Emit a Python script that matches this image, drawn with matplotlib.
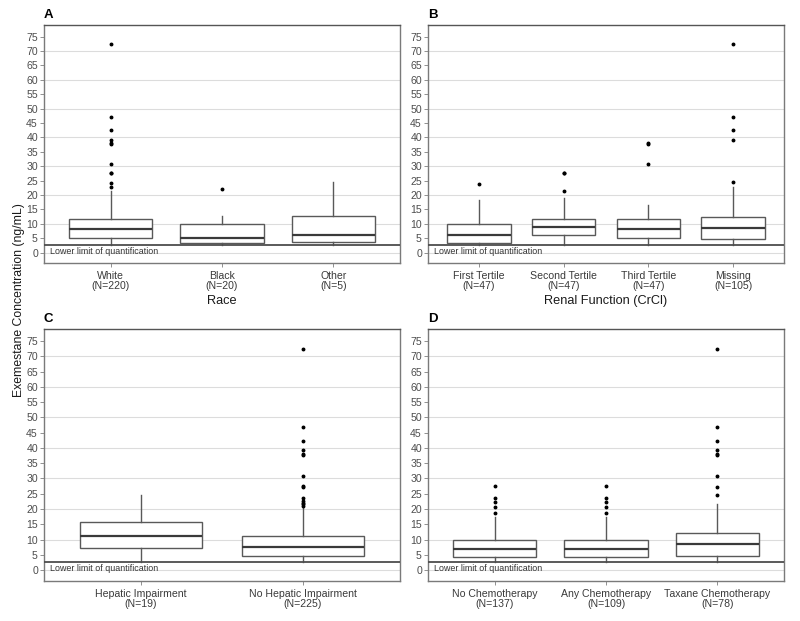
import matplotlib
matplotlib.use("Agg")
import matplotlib.pyplot as plt
from matplotlib.transforms import blended_transform_factory

plt.rcParams['font.family'] = ['Liberation Sans', 'DejaVu Sans']

LLOQ = 2.5

# Panel A: Race
a_cats = ["White\n(N=220)", "Black\n(N=20)", "Other\n(N=5)"]
a_q1 = [5.0, 3.5, 3.8]
a_med = [8.2, 5.2, 6.2]
a_q3 = [11.8, 9.9, 12.6]
a_lo = [2.5, 2.5, 2.5]
a_hi = [21.3, 12.7, 24.6]
a_fliers = [[72.5, 47.0, 42.6, 39.2, 38.2, 37.8, 30.9, 27.8, 27.5, 24.0, 22.7],
            [22.0],
            []]

# Panel B: Renal function
b_cats = ["First Tertile\n(N=47)", "Second Tertile\n(N=47)", "Third Tertile\n(N=47)", "Missing\n(N=105)"]
b_q1 = [3.3, 6.2, 5.0, 4.6]
b_med = [6.2, 9.0, 8.3, 8.5]
b_q3 = [10.0, 11.5, 11.5, 12.5]
b_lo = [2.5, 2.5, 2.5, 2.5]
b_hi = [18.1, 19.0, 16.4, 22.7]
b_fliers = [[23.9],
            [27.8, 27.5, 21.5],
            [38.1, 37.6, 30.9],
            [72.5, 47.0, 42.6, 39.2, 24.6]]

# Panel C: Hepatic impairment
c_cats = ["Hepatic Impairment\n(N=19)", "No Hepatic Impairment\n(N=225)"]
c_q1 = [7.2, 4.5]
c_med = [11.1, 7.5]
c_q3 = [15.6, 11.0]
c_lo = [2.5, 2.5]
c_hi = [24.6, 20.7]
c_fliers = [[],
            [72.3, 46.8, 42.4, 39.2, 38.0, 37.6, 30.7, 27.6, 27.3, 23.5, 22.7, 22.0, 21.5, 21.1]]

# Panel D: Chemotherapy
d_cats = ["No Chemotherapy\n(N=137)", "Any Chemotherapy\n(N=109)", "Taxane Chemotherapy\n(N=78)"]
d_q1 = [4.4, 4.4, 4.7]
d_med = [7.0, 7.0, 8.5]
d_q3 = [9.9, 9.9, 12.2]
d_lo = [2.5, 2.5, 2.5]
d_hi = [17.5, 17.5, 21.7]
d_fliers = [[27.6, 23.5, 22.4, 20.7, 18.8],
            [27.6, 23.5, 22.4, 20.7, 18.8],
            [72.3, 46.8, 42.4, 39.2, 38.0, 37.6, 30.7, 27.3, 24.6]]

yticks = list(range(0, 80, 5))
grid_vals = list(range(0, 80, 10))

fig = plt.figure(figsize=(8.0, 6.21), dpi=100)

W, H = 800, 621
def rect(x0, y0, x1, y1):
    return [x0 / W, (H - y1) / H, (x1 - x0) / W, (y1 - y0) / H]

panels = [
    ("A", rect(44, 25, 400, 263), a_cats, a_q1, a_med, a_q3, a_lo, a_hi, a_fliers, "Race"),
    ("B", rect(428, 25, 784, 263), b_cats, b_q1, b_med, b_q3, b_lo, b_hi, b_fliers, "Renal Function (CrCl)"),
    ("C", rect(44, 329, 400, 581), c_cats, c_q1, c_med, c_q3, c_lo, c_hi, c_fliers, None),
    ("D", rect(428, 329, 784, 581), d_cats, d_q1, d_med, d_q3, d_lo, d_hi, d_fliers, None),
]

edge = '#595959'
for label, r, cats, q1, med, q3, lo, hi, fl, xlabel in panels:
    ax = fig.add_axes(r)
    stats = []
    for i in range(len(cats)):
        stats.append(dict(q1=q1[i], med=med[i], q3=q3[i], whislo=lo[i], whishi=hi[i],
                          fliers=fl[i], label=cats[i]))
    pos = list(range(1, len(cats) + 1))
    ax.bxp(stats, positions=pos, widths=0.75, showcaps=False, patch_artist=True,
           boxprops=dict(facecolor='white', edgecolor=edge, linewidth=1.0),
           medianprops=dict(color='#3a3a3a', linewidth=1.6),
           whiskerprops=dict(color=edge, linewidth=1.0),
           flierprops=dict(marker='o', markersize=1.8, markerfacecolor='black',
                           markeredgecolor='black', linestyle='none'),
           zorder=3)
    ax.set_xlim(0.4, len(cats) + 0.6)
    ax.set_ylim(-3.6, 79)
    ax.set_yticks(yticks)
    ax.set_yticklabels([str(v) for v in yticks], fontsize=7.6, color='#4d4d4d')
    ax.tick_params(axis='y', length=3.2, width=0.6, color='#7f7f7f', pad=1.2)
    ax.tick_params(axis='x', length=3, width=0.6, color='#7f7f7f', labelsize=7.6,
                   labelcolor='#3a3a3a', pad=2.5)
    ax.set_xticks(pos)
    ax.set_xticklabels(cats, linespacing=1.0)
    for g in grid_vals:
        ax.axhline(g, color='#dcdcdc', linewidth=0.8, zorder=0)
    ax.axhline(LLOQ, color='#4d4d4d', linewidth=1.3, zorder=4)
    tr = blended_transform_factory(ax.transAxes, ax.transData)
    ax.text(0.016, LLOQ - 0.4, "Lower limit of quantification", fontsize=6.4, color='#333333',
            va='top', ha='left', zorder=5, transform=tr)
    for s in ax.spines.values():
        s.set_color('#7a7a7a')
        s.set_linewidth(1.0)
    ax.spines['top'].set_color('#555555')
    if xlabel:
        ax.set_xlabel(xlabel, fontsize=9.2, color='#1a1a1a', labelpad=3)
    ax.text(0.0, 1.016, label, transform=ax.transAxes, fontsize=9.5, fontweight='bold',
            ha='left', va='bottom')

fig.text(0.024, 0.517, "Exemestane Concentration (ng/mL)", rotation=90, fontsize=8.8,
         ha='center', va='center', color='#1a1a1a')

fig.savefig("out.png", dpi=100)
